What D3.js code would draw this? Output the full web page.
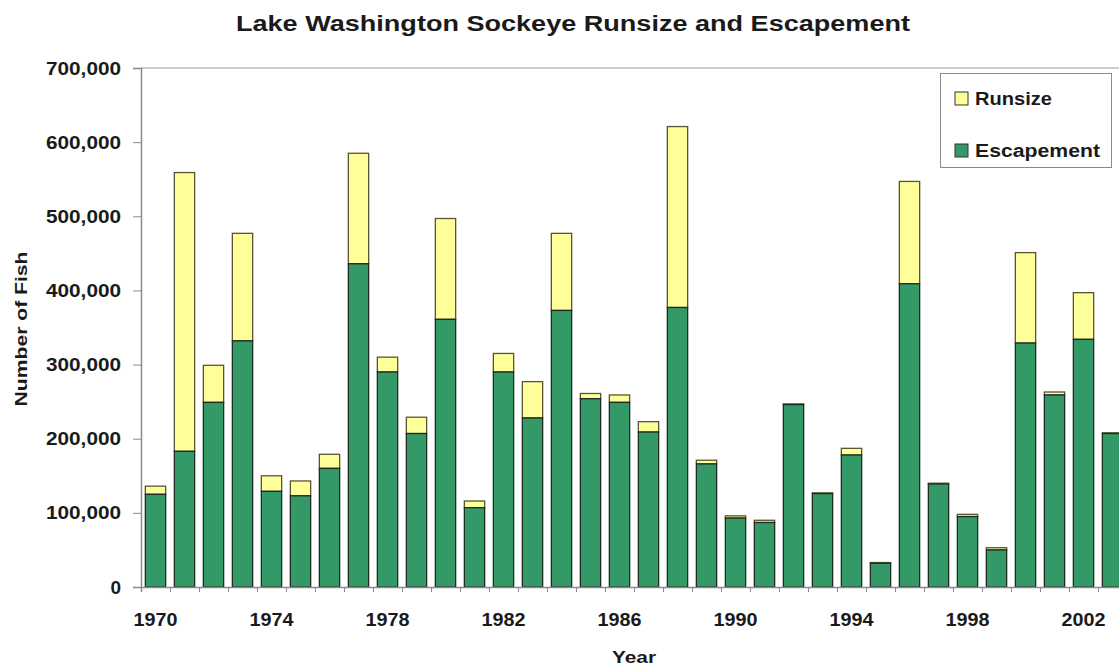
<!DOCTYPE html>
<html>
<head>
<meta charset="utf-8">
<script src="https://cdn.jsdelivr.net/npm/d3@7"></script>
<style>
  body { margin: 0; background: #fff; }
  svg text { font-family: "Liberation Sans", Arial, sans-serif; font-weight: bold; fill: #1a1a1a; }
</style>
</head>
<body>
<script>
// data
let years = d3.range(1970, 2004);
let runsize = [136000, 559000, 299000, 477000, 150000, 143000, 179000, 585000, 310000, 229000,
    497000, 116000, 315000, 277000, 477000, 261000, 259000, 223000, 621000, 171000,
    96000, 90000, 247000, 127000, 187000, 33000, 547000, 140000, 98000, 53000,
    451000, 263000, 397000, 208000];
let escapement = [125000, 183000, 249000, 332000, 129000, 123000, 160000, 436000, 290000, 207000,
    361000, 107000, 290000, 228000, 373000, 254000, 249000, 209000, 377000, 166000,
    93000, 87000, 246000, 126000, 178000, 32000, 409000, 139000, 95000, 50000,
    329000, 259000, 334000, 207000];
let yTicks = [0, 100000, 200000, 300000, 400000, 500000, 600000, 700000];
let xLabels = [1970, 1974, 1978, 1982, 1986, 1990, 1994, 1998, 2002];
let seriesNames = ["Runsize", "Escapement"];

let W = 1119, H = 668;
let plotL = 141, plotR = 1127, plotT = 68, plotB = 587;

let colRun = "#ffff99", colEsc = "#339966";

let data = years.map(function(yr, i) {
    return {year: yr, run: runsize[i], esc: escapement[i]};
});

// set the ranges
let x = d3.scaleBand().domain(years).range([plotL, plotR]).paddingInner(0.3).paddingOuter(0.15);
let xb = d3.scaleLinear().domain([0, years.length]).range([plotL, plotR]);
let y = d3.scaleLinear().domain([0, 700000]).range([plotB, plotT]);

let svg = d3.select("body").append("svg")
    .attr("width", W)
    .attr("height", H);

// stretch a text to a given width
function fit(sel, w) {
    sel.attr("textLength", w).attr("lengthAdjust", "spacingAndGlyphs");
}

// title
svg.append("text")
    .attr("x", 236).attr("y", 31)
    .style("font-size", "22px")
    .text("Lake Washington Sockeye Runsize and Escapement")
    .call(fit, 674);

// top border of the plot area
svg.append("line")
    .attr("x1", plotL).attr("x2", W)
    .attr("y1", plotT).attr("y2", plotT)
    .attr("stroke", "#9a9a9a");

// bars
let bars = svg.append("g");
bars.selectAll(".run")
    .data(data)
    .enter().append("rect")
    .attr("class", "run")
    .attr("x", function(d) { return x(d.year); })
    .attr("width", x.bandwidth())
    .attr("y", function(d) { return y(d.run); })
    .attr("height", function(d) { return Math.max(0, y(d.esc) - y(d.run)); })
    .attr("fill", colRun)
    .attr("stroke", "#5a5530")
    .attr("stroke-width", 1.3);

bars.selectAll(".esc")
    .data(data)
    .enter().append("rect")
    .attr("class", "esc")
    .attr("x", function(d) { return x(d.year); })
    .attr("width", x.bandwidth())
    .attr("y", function(d) { return y(d.esc); })
    .attr("height", function(d) { return y(0) - y(d.esc); })
    .attr("fill", colEsc)
    .attr("stroke", "#1f2a22")
    .attr("stroke-width", 1.3);

// Y axis
let yAxis = svg.append("g")
    .attr("transform", "translate(" + plotL + ",0)")
    .call(d3.axisLeft(y).tickValues(yTicks).tickSize(8).tickPadding(12).tickFormat(d3.format(",")));
yAxis.select(".domain").attr("stroke", "#8a8a8a").attr("stroke-width", 1.5);
yAxis.selectAll(".tick line").attr("stroke", "#8a8a8a");
yAxis.selectAll(".tick text")
    .style("font-size", "19px")
    .attr("fill", "#1a1a1a")
    .each(function(d) { if (d > 0) d3.select(this).call(fit, 75); });

// X axis: ticks between bars
let xTickAxis = svg.append("g")
    .attr("transform", "translate(0," + plotB + ")")
    .call(d3.axisBottom(xb).ticks(years.length).tickSize(5).tickFormat(""));
xTickAxis.select(".domain").attr("stroke", "#8a8a8a").attr("stroke-width", 1.5);
xTickAxis.selectAll(".tick line").attr("stroke", "#8a8a8a");

// X axis labels
let xLabAxis = svg.append("g")
    .attr("transform", "translate(0," + plotB + ")")
    .call(d3.axisBottom(x).tickValues(xLabels).tickSize(0).tickPadding(26));
xLabAxis.select(".domain").remove();
xLabAxis.selectAll(".tick text")
    .style("font-size", "19px")
    .attr("fill", "#1a1a1a")
    .call(fit, 44);

// axis titles
svg.append("text")
    .attr("x", 634).attr("y", 663)
    .attr("text-anchor", "middle")
    .style("font-size", "17px")
    .text("Year")
    .call(fit, 44);

svg.append("text")
    .attr("transform", "translate(27,329) rotate(-90)")
    .attr("text-anchor", "middle")
    .style("font-size", "17px")
    .text("Number of Fish")
    .call(fit, 155);

// legend
let legend = svg.append("g");
legend.append("rect")
    .attr("x", 940.5).attr("y", 73.5)
    .attr("width", 171).attr("height", 94)
    .attr("fill", "#fff")
    .attr("stroke", "#8a8a8a");

let legendRows = legend.selectAll(".row")
    .data(seriesNames)
    .enter().append("g")
    .attr("class", "row")
    .attr("transform", function(d, i) { return "translate(955," + (92 + i * 52) + ")"; });

legendRows.append("rect")
    .attr("width", 13).attr("height", 13)
    .attr("fill", function(d, i) { return i === 0 ? colRun : colEsc; })
    .attr("stroke", "#333");

legendRows.append("text")
    .attr("x", 20).attr("y", 13)
    .style("font-size", "18px")
    .text(function(d) { return d; })
    .each(function(d, i) { d3.select(this).call(fit, i === 0 ? 77 : 125); });
</script>
</body>
</html>
